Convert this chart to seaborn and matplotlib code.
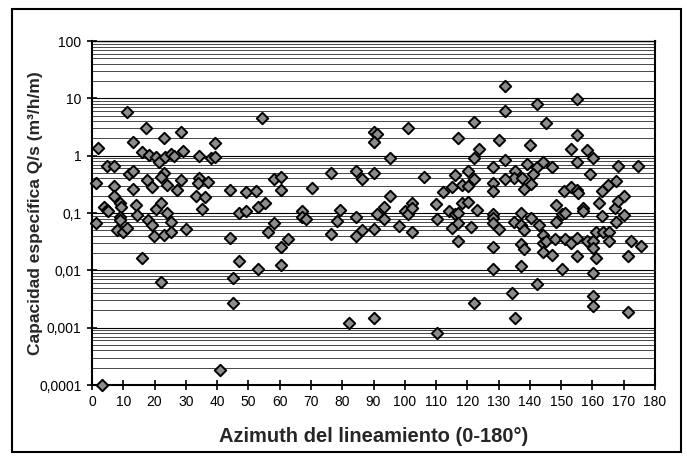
import matplotlib
matplotlib.use("Agg")
import matplotlib.pyplot as plt
import matplotlib.ticker as mticker
from matplotlib.patches import Rectangle
import numpy as np
import pandas as pd
import seaborn as sns

# Azimuth (degrees) of each well's lineament
azimuth = [
    11.1, 54.3, 17.2, 23.1, 28.4, 13.2, 39.3, 2.0, 16.1, 18.3,
    20.4, 21.4, 23.3, 25.2, 26.2, 29.2, 34.2, 38.0, 39.3, 4.9,
    7.1, 11.9, 13.2, 23.1, 22.1, 17.7, 19.1, 24.1, 28.4, 34.2,
    34.0, 37.2, 1.2, 7.1, 13.2, 27.3, 44.1, 49.1, 52.3, 58.2,
    60.3, 60.3, 7.1, 33.2, 36.1, 3.8, 4.7, 5.2, 9.0, 9.2,
    14.1, 14.5, 20.4, 22.1, 24.1, 35.1, 47.0, 49.2, 53.2, 55.3,
    1.2, 9.0, 9.0, 17.8, 19.1, 25.2, 7.9, 10.0, 11.1, 19.9,
    23.1, 25.2, 30.1, 44.1, 56.2, 58.3, 60.3, 16.1, 47.0, 53.2,
    60.3, 22.1, 45.2, 45.2, 62.8, 40.9, 3.1,
    122.2, 101.1, 90.2, 91.2, 90.2, 117.1, 123.7, 95.3, 122.2, 76.3,
    84.4, 86.2, 90.2, 106.1, 116.0, 120.1, 122.2, 70.2, 95.3, 112.1,
    115.2, 118.2, 120.3, 67.2, 67.2, 68.3, 79.3, 78.4, 84.4, 91.2,
    93.4, 93.4, 100.1, 101.1, 102.2, 102.4, 110.0, 110.2, 114.1, 116.0,
    117.1, 118.2, 120.3, 123.0, 76.3, 84.4, 86.2, 90.2, 98.2, 102.2,
    115.2, 117.1, 117.1, 121.2, 122.2, 82.3, 90.2, 110.2,
    132.0, 142.2, 155.1, 132.0, 145.1, 155.1, 130.2, 140.0, 153.1, 158.2,
    132.0, 128.1, 139.2, 142.2, 144.1, 147.2, 155.1, 160.3, 168.3, 174.5,
    135.2, 134.9, 137.4, 132.0, 141.1, 159.2, 128.1, 128.1, 138.1, 140.2,
    151.0, 153.1, 155.1, 155.5, 163.1, 165.1, 167.4, 128.1, 128.1, 128.1,
    130.2, 134.9, 137.1, 137.1, 138.1, 140.2, 143.0, 148.2, 148.2, 150.4,
    151.2, 157.1, 157.1, 162.2, 163.1, 167.2, 167.4, 168.3, 170.2, 170.2,
    144.1, 144.1, 145.1, 144.1, 147.2, 148.0, 151.2, 153.1, 155.1, 158.2,
    160.3, 160.3, 161.1, 163.3, 165.3, 165.3, 128.1, 137.1, 138.1, 155.1,
    161.1, 172.3, 175.4, 171.5, 128.1, 137.1, 150.2, 160.3, 142.2, 134.2,
    160.3, 160.3, 171.5, 135.2,
]

# Specific capacity Q/s (m3/h/m)
capacidad = [
    5.85, 4.49, 3.07, 2.01, 2.55, 1.71, 1.64, 1.38, 1.15, 1.03,
    0.935, 0.785, 0.935, 1.07, 1.0, 1.22, 1.0, 0.90, 0.935, 0.668,
    0.668, 0.473, 0.545, 0.505, 0.419, 0.376, 0.288, 0.308, 0.376, 0.413,
    0.337, 0.351, 0.337, 0.296, 0.259, 0.252, 0.252, 0.228, 0.245, 0.392,
    0.419, 0.252, 0.199, 0.199, 0.192, 0.126, 0.113, 0.107, 0.149, 0.126,
    0.136, 0.092, 0.117, 0.149, 0.102, 0.117, 0.099, 0.11, 0.126, 0.149,
    0.068, 0.086, 0.0745, 0.0745, 0.0618, 0.0705, 0.0505, 0.0472, 0.0557, 0.039,
    0.0407, 0.046, 0.0526, 0.037, 0.046, 0.0682, 0.026, 0.0162, 0.0144, 0.0105,
    0.0124, 0.0063, 0.0074, 0.0027, 0.035, 0.00018, 0.0001,
    3.82, 3.07, 2.55, 2.36, 1.71, 2.01, 1.29, 0.90, 0.90, 0.505,
    0.533, 0.387, 0.492, 0.419, 0.46, 0.545, 0.387, 0.27, 0.199, 0.228,
    0.281, 0.308, 0.296, 0.11, 0.084, 0.079, 0.113, 0.0725, 0.084, 0.095,
    0.129, 0.079, 0.107, 0.095, 0.149, 0.121, 0.142, 0.079, 0.107, 0.095,
    0.102, 0.149, 0.157, 0.113, 0.043, 0.039, 0.0505, 0.053, 0.06, 0.046,
    0.0557, 0.066, 0.032, 0.0577, 0.0027, 0.00121, 0.00147, 0.00082,
    16.4, 7.9, 9.6, 6.0, 3.66, 2.29, 1.88, 1.53, 1.31, 1.26,
    0.84, 0.627, 0.706, 0.627, 0.765, 0.641, 0.765, 0.92, 0.668, 0.668,
    0.533, 0.403, 0.413, 0.387, 0.479, 0.479, 0.33, 0.242, 0.259, 0.316,
    0.245, 0.288, 0.252, 0.221, 0.245, 0.308, 0.366, 0.095, 0.081, 0.066,
    0.0526, 0.0705, 0.102, 0.0618, 0.0505, 0.081, 0.0618, 0.136, 0.0705, 0.095,
    0.102, 0.121, 0.11, 0.149, 0.089, 0.121, 0.0705, 0.164, 0.199, 0.092,
    0.0407, 0.0296, 0.032, 0.0211, 0.0185, 0.035, 0.035, 0.0296, 0.0362, 0.0329,
    0.0329, 0.0242, 0.0472, 0.0472, 0.0472, 0.0329, 0.026, 0.0288, 0.0236, 0.018,
    0.0166, 0.032, 0.0269, 0.0178, 0.0105, 0.0119, 0.0105, 0.0091, 0.0058, 0.0041,
    0.0036, 0.0024, 0.0019, 0.00147,
]

x_ticks = list(range(0, 181, 10))
y_ticks = [0.0001, 0.001, 0.01, 0.1, 1, 10, 100]
y_tick_labels = ["0,0001", "0,001", "0,01", "0,1", "1", "10", "100"]

df = pd.DataFrame({"azimuth": azimuth, "capacidad": capacidad})

sns.set_theme(style="white")
plt.rcParams["font.family"] = ["Liberation Sans", "DejaVu Sans"]

fig = plt.figure(figsize=(6.87, 4.59), dpi=100)
ax = fig.add_axes([92 / 687, 1 - 385 / 459, (655 - 92) / 687, (385 - 41) / 459])

ax.set_yscale("log")
ax.set_xlim(0, 180)
ax.set_ylim(0.0001, 100)

# Horizontal grid lines at every major and minor log step
ax.yaxis.set_minor_locator(mticker.LogLocator(base=10, subs=np.arange(2, 10), numticks=20))
ax.grid(True, axis="y", which="major", color="black", linewidth=0.8)
ax.grid(True, axis="y", which="minor", color="#2a2a2a", linewidth=0.6)
ax.grid(False, axis="x")
ax.set_axisbelow(True)

sns.scatterplot(data=df, x="azimuth", y="capacidad", ax=ax, marker="D",
                s=34, color="#8c8c8c", edgecolor="black", linewidth=1.4,
                zorder=3, clip_on=False)

ax.set_xticks(x_ticks)
ax.set_xticklabels([str(t) for t in x_ticks])
ax.set_yticks(y_ticks)
ax.set_yticklabels(y_tick_labels)
ax.yaxis.set_minor_formatter(mticker.NullFormatter())

ax.tick_params(axis="both", which="major", direction="inout", length=7, width=1.2,
               colors="black", labelsize=10, pad=4, bottom=True, left=True)
ax.tick_params(axis="y", which="minor", length=0)

for side in ["left", "bottom", "right", "top"]:
    ax.spines[side].set_visible(True)
    ax.spines[side].set_color("black")
ax.spines["left"].set_linewidth(1.5)
ax.spines["bottom"].set_linewidth(1.5)
ax.spines["right"].set_linewidth(1.5)
ax.spines["top"].set_linewidth(1.0)

ax.set_xlabel("Azimuth del lineamiento (0-180°)", fontsize=14.5, fontweight="bold")
ax.xaxis.set_label_coords(0.5, -(437 - 385) / 344, transform=ax.transAxes)
ax.xaxis.label.set_verticalalignment("center")
ax.set_ylabel("Capacidad específica Q/s (m³/h/m)", fontsize=12.5, fontweight="bold")
ax.yaxis.set_label_coords(-(92 - 36) / 563, 0.5, transform=ax.transAxes)
ax.yaxis.label.set_verticalalignment("center")

# Outer frame around the whole figure
fig.add_artist(Rectangle((12 / 687, 1 - 452 / 459), (681 - 12) / 687, (452 - 9) / 459,
                         transform=fig.transFigure, fill=False,
                         edgecolor="black", linewidth=1.5, zorder=10))

fig.savefig("out.png", dpi=100, facecolor="white")
